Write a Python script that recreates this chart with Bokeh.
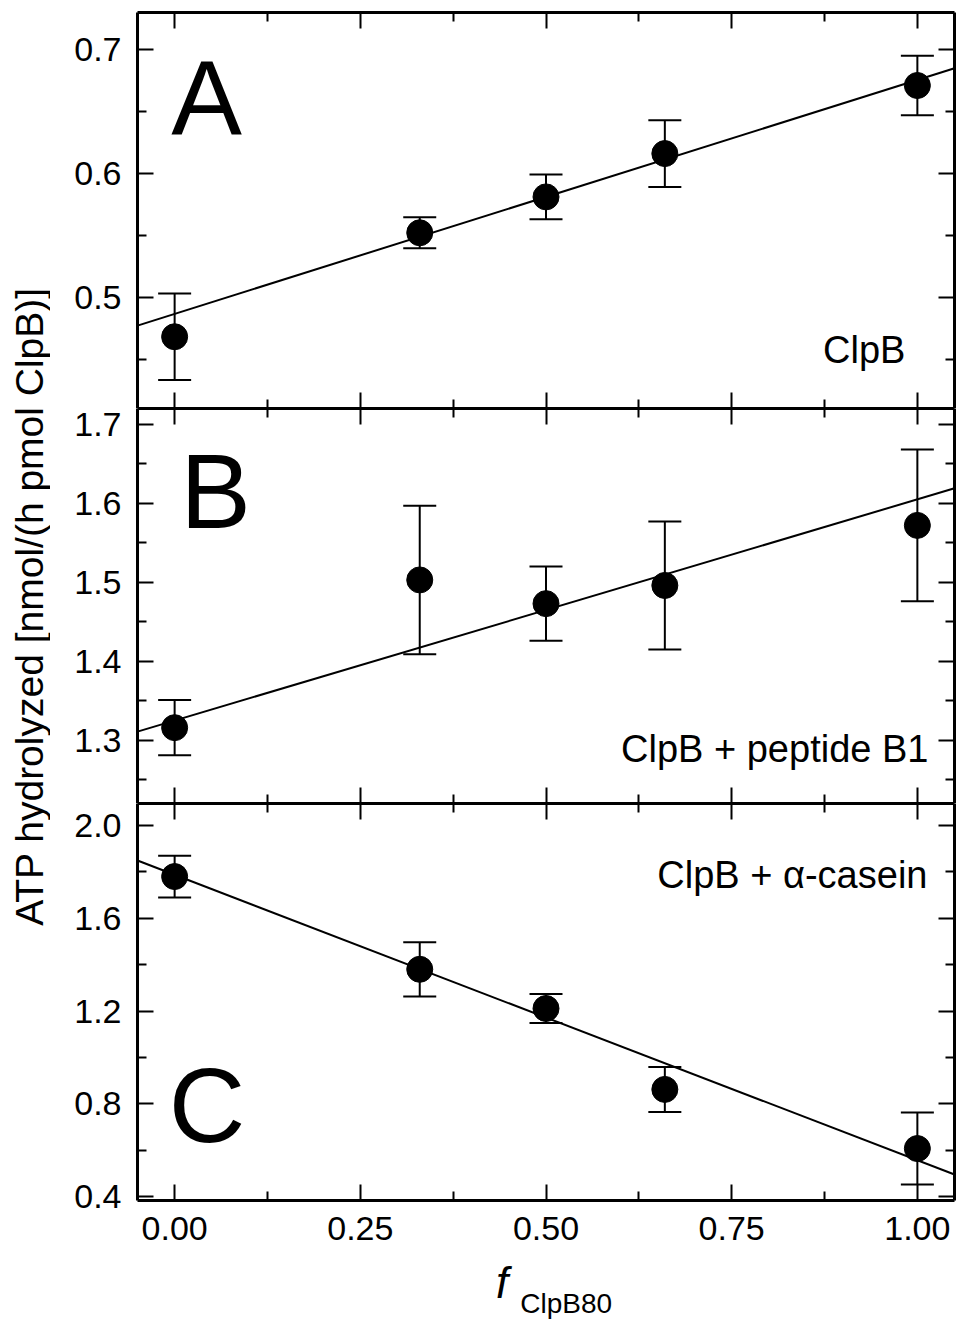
import math
from bokeh.plotting import figure
from bokeh.layouts import row, column
from bokeh.models import (Range1d, LinearAxis, FixedTicker, PrintfTickFormatter,
                          ColumnDataSource, Whisker, TeeHead, Label)
from bokeh.embed import file_html
from bokeh.resources import INLINE

# ---------------- data ----------------
f_clpb80 = [0.0, 0.33, 0.50, 0.66, 1.00]

atp_clpb = [0.468, 0.552, 0.581, 0.616, 0.671]
atp_clpb_err = [0.035, 0.0125, 0.018, 0.027, 0.024]

atp_b1 = [1.316, 1.503, 1.473, 1.496, 1.572]
atp_b1_err = [0.035, 0.094, 0.047, 0.081, 0.096]

atp_casein = [1.78, 1.38, 1.211, 0.862, 0.607]
atp_casein_err = [0.09, 0.117, 0.063, 0.097, 0.155]

fit_x = [-0.05, 1.05]
fit_clpb = [0.477, 0.685]
fit_b1 = [1.311, 1.619]
fit_casein = [1.849, 0.495]

x_ticks = [0.0, 0.25, 0.50, 0.75, 1.00]
x_minor = [0.125, 0.375, 0.625, 0.875]
a_ticks = [0.5, 0.6, 0.7]
a_minor = [0.45, 0.55, 0.65]
b_ticks = [1.3, 1.4, 1.5, 1.6, 1.7]
b_minor = [1.25, 1.35, 1.45, 1.55, 1.65]
c_ticks = [0.4, 0.8, 1.2, 1.6, 2.0]
c_minor = [0.6, 1.0, 1.4, 1.8]

FONT = "Liberation Sans"
PW = 908  # panel width
XR = (-0.05, 1.05)


def style_axis(ax, ticks, minor, fmt, show, standoff=15):
    ax.ticker = FixedTicker(ticks=ticks, minor_ticks=minor)
    ax.formatter = PrintfTickFormatter(format=fmt)
    ax.axis_line_width = 3
    ax.axis_line_color = "black"
    ax.major_tick_in = 16
    ax.major_tick_out = 0
    ax.minor_tick_in = 9
    ax.minor_tick_out = 0
    ax.major_tick_line_width = 2
    ax.minor_tick_line_width = 2
    ax.major_tick_line_color = "black"
    ax.minor_tick_line_color = "black"
    if show:
        ax.major_label_text_font = FONT
        ax.major_label_text_font_size = "34px"
        ax.major_label_text_color = "black"
        ax.major_label_standoff = standoff
    else:
        ax.major_label_text_color = None
        ax.major_label_standoff = 0


def panel(yvals, yerr, fit, yr, yt, ym, height, btop, bbot):
    p = figure(width=PW, height=height, title=None,
               x_range=Range1d(*XR), y_range=Range1d(*yr),
               output_backend="svg", toolbar_location=None,
               min_border_left=87, min_border_right=4,
               min_border_top=btop, min_border_bottom=bbot)
    p.grid.visible = False
    p.outline_line_color = None
    p.background_fill_color = "white"
    p.border_fill_color = "white"

    bottom = p.xaxis[0]
    left = p.yaxis[0]
    top = LinearAxis()
    right = LinearAxis()
    p.add_layout(top, "above")
    p.add_layout(right, "right")
    style_axis(bottom, x_ticks, x_minor, "%.2f", False)
    style_axis(top, x_ticks, x_minor, "%.2f", False)
    style_axis(left, yt, ym, "%.1f", True, standoff=16)
    style_axis(right, yt, ym, "%.1f", False)

    src = ColumnDataSource(dict(
        x=f_clpb80, y=yvals,
        upper=[v + e for v, e in zip(yvals, yerr)],
        lower=[v - e for v, e in zip(yvals, yerr)]))
    p.line(fit_x, fit, line_color="black", line_width=2)
    p.add_layout(Whisker(source=src, base="x", upper="upper", lower="lower",
                         line_color="black", line_width=2,
                         upper_head=TeeHead(size=33, line_width=2, line_color="black"),
                         lower_head=TeeHead(size=33, line_width=2, line_color="black")))
    p.scatter("x", "y", source=src, size=26, fill_color="black", line_color="black")
    return p


def lab(p, x, y, text, size, align="left", style="normal", y_units="data"):
    p.add_layout(Label(x=x, y=y, y_units=y_units, text=text, text_font=FONT,
                       text_font_size=size, text_align=align,
                       text_baseline="middle", text_color="black",
                       text_font_style=style))


pA = panel(atp_clpb, atp_clpb_err, fit_clpb, (0.41, 0.73), a_ticks, a_minor, 408, 12, 0)
lab(pA, 0.043, 0.6619, "A", "106px", "center")
lab(pA, 0.9839, 0.457, "ClpB", "38px", "right")

pB = panel(atp_b1, atp_b1_err, fit_b1, (1.22, 1.72), b_ticks, b_minor, 395, 0, 0)
lab(pB, 0.055, 1.6158, "B", "106px", "center")
lab(pB, 1.0149, 1.2886, "ClpB + peptide B1", "38px", "right")

pC = panel(atp_casein, atp_casein_err, fit_casein, (0.383, 2.095), c_ticks, c_minor, 406, 0, 9)
lab(pC, 0.0436, 0.7936, "C", "106px", "center")
lab(pC, 1.0136, 1.7854, "ClpB + α-casein", "38px", "right")

# strip under panel C: x tick labels (shared scale) and the axis title
xs = figure(width=PW, height=111, title=None, x_range=pC.x_range, y_range=Range1d(0, 1),
            output_backend="svg", toolbar_location=None,
            min_border_left=87, min_border_right=4, min_border_top=30, min_border_bottom=0,
            x_axis_location="above", y_axis_location=None)
xs.grid.visible = False
xs.outline_line_color = None
xax = xs.xaxis[0]
xax.ticker = FixedTicker(ticks=x_ticks)
xax.formatter = PrintfTickFormatter(format="%.2f")
xax.axis_line_color = None
xax.major_tick_in = 0
xax.major_tick_out = 0
xax.minor_tick_in = 0
xax.minor_tick_out = 0
xax.major_tick_line_color = None
xax.minor_tick_line_color = None
xax.major_label_text_font = FONT
xax.major_label_text_font_size = "34px"
xax.major_label_text_color = "black"
xax.major_label_standoff = 0
lab(xs, 0.4408, 38.2, "f", "44px", "center", "italic", "screen")
lab(xs, 0.4653, 16.7, "ClpB80", "28px", "left", "normal", "screen")

# y-axis title strip (pixel coordinates)
ylab = figure(width=50, height=1320, x_range=Range1d(0, 50), y_range=Range1d(0, 1320),
              output_backend="svg", toolbar_location=None, min_border=0,
              x_axis_location=None, y_axis_location=None)
ylab.grid.visible = False
ylab.outline_line_color = None
ylab.add_layout(Label(x=28.5, y=714, text="ATP hydrolyzed [nmol/(h pmol ClpB)]",
                      angle=math.pi / 2, text_align="center", text_baseline="middle",
                      text_font=FONT, text_font_size="39px", text_color="black"))

layout = row(ylab, column(pA, pB, pC, xs))
open("out.html", "w").write(file_html(layout, INLINE))
